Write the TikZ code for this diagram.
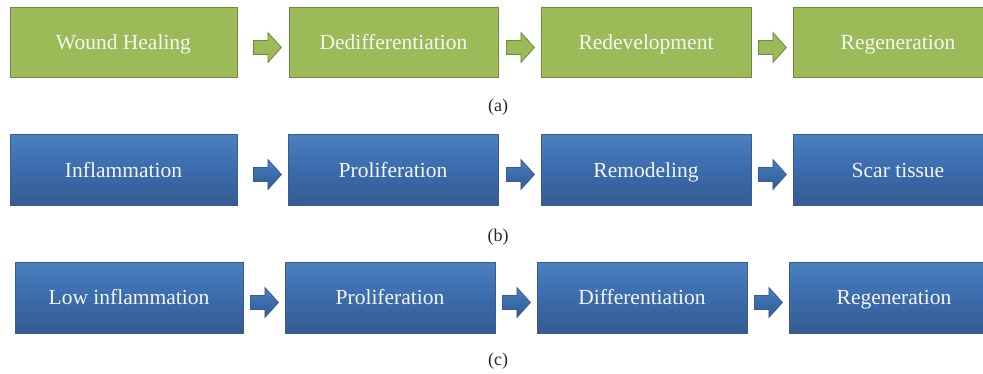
\documentclass[tikz,border=0pt]{standalone}
\usepackage{fontspec}
\setmainfont{Liberation Serif}
\usetikzlibrary{shapes.arrows}
\definecolor{gfill}{RGB}{155,187,89}
\definecolor{gline}{RGB}{113,137,63}
\definecolor{btop}{RGB}{76,128,192}
\definecolor{bmid}{RGB}{58,107,172}
\definecolor{bbot}{RGB}{54,92,144}
\definecolor{bline}{RGB}{56,93,138}
\definecolor{tcol}{RGB}{245,245,245}
\tikzset{
  stepbase/.style={inner sep=0pt, line width=1pt, text=tcol,
    font=\fontsize{21.5}{25}\selectfont, text height=14pt, text depth=0pt},
  gbox/.style={stepbase, draw=gline, fill=gfill},
  bbox/.style={stepbase, draw=bline, top color=btop, bottom color=bbot, middle color=bmid},
  arrowbase/.style={single arrow, minimum height=28pt, inner xsep=0pt, inner ysep=6.5pt,
    single arrow head extend=8pt, single arrow tip angle=96,
    line width=0.8pt, anchor=tail},
  garrow/.style={arrowbase, draw=gline, fill=gfill},
  barrow/.style={arrowbase, draw=bline, top color=btop, bottom color=bbot, middle color=bmid},
  caption/.style={font=\fontsize{18}{21}\selectfont, text=black!85}
}
\begin{document}
\begin{tikzpicture}[x=1pt,y=-1pt]
\clip (0,0) rectangle (983,374);
% row (a)
\node[gbox, minimum width=227pt, minimum height=70pt] (a1) at (123.5,43) {Wound Healing};
\node[gbox, minimum width=209pt, minimum height=70pt] (a2) at (393.5,43) {Dedifferentiation};
\node[gbox, minimum width=210pt, minimum height=70pt] (a3) at (646,43) {Redevelopment};
\node[gbox, minimum width=210pt, minimum height=70pt] (a4) at (898,43) {Regeneration};
\node[garrow] (aa1) at (253,47.5) {};
\node[garrow] (aa2) at (506,47.5) {};
\node[garrow] (aa3) at (758,47.5) {};
\node[caption] (la) at (498,107) {(a)};
% row (b)
\node[bbox, minimum width=227pt, minimum height=71pt] (b1) at (123.5,170.5) {Inflammation};
\node[bbox, minimum width=210pt, minimum height=71pt] (b2) at (393,170.5) {Proliferation};
\node[bbox, minimum width=210pt, minimum height=71pt] (b3) at (646,170.5) {Remodeling};
\node[bbox, minimum width=210pt, minimum height=71pt] (b4) at (898,170.5) {Scar tissue};
\node[barrow] (ba1) at (253,174.5) {};
\node[barrow] (ba2) at (506,174.5) {};
\node[barrow] (ba3) at (758,174.5) {};
\node[caption] (lb) at (498,237) {(b)};
% row (c)
\node[bbox, minimum width=228pt, minimum height=70pt] (c1) at (129,298) {Low inflammation};
\node[bbox, minimum width=210pt, minimum height=70pt] (c2) at (390,298) {Proliferation};
\node[bbox, minimum width=210pt, minimum height=70pt] (c3) at (642,298) {Differentiation};
\node[bbox, minimum width=210pt, minimum height=70pt] (c4) at (894,298) {Regeneration};
\node[barrow] (ca1) at (250,302.5) {};
\node[barrow] (ca2) at (502,302.5) {};
\node[barrow] (ca3) at (754,302.5) {};
\node[caption] (lc) at (498,361) {(c)};
\end{tikzpicture}
\end{document}
